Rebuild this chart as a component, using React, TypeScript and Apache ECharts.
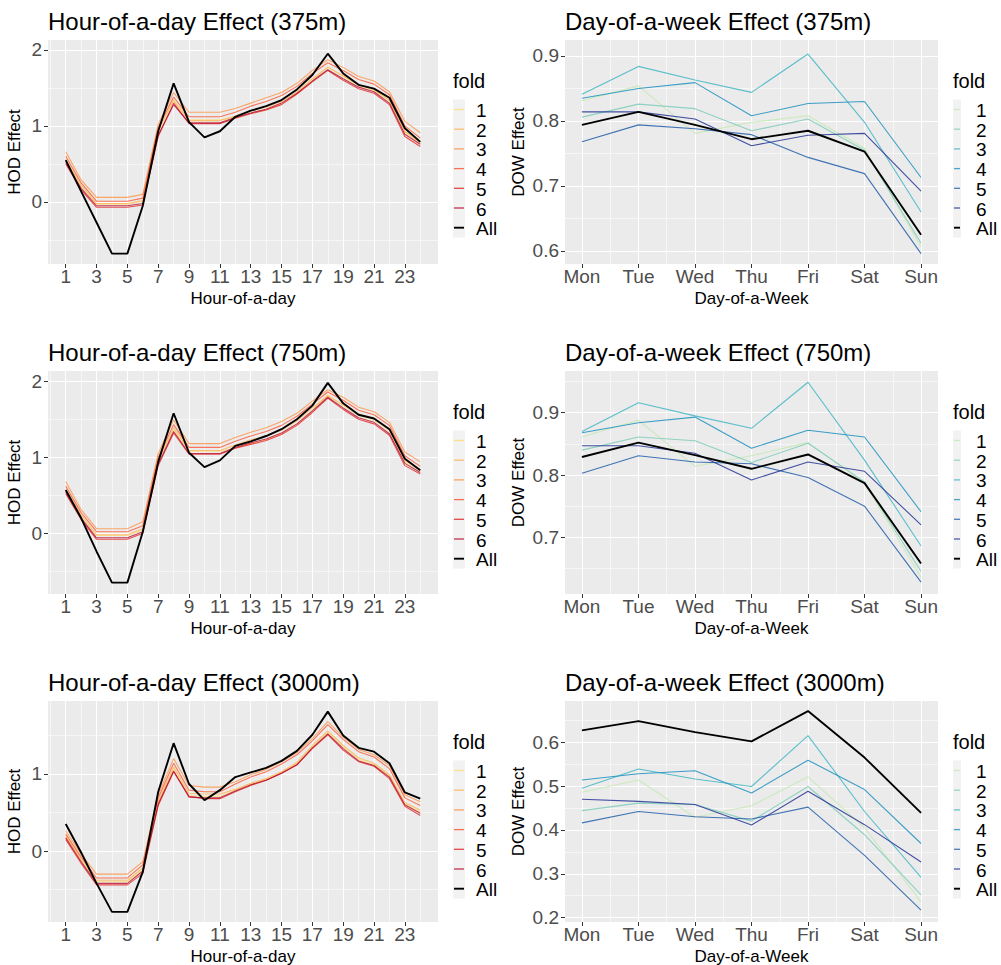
import React, { useEffect, useRef } from 'react';
import * as echarts from 'echarts';

const FONT = '"Liberation Sans", Arial, Helvetica, sans-serif';

// ---------- categories / ticks ----------
const hours = [1, 2, 3, 4, 5, 6, 7, 8, 9, 10, 11, 12, 13, 14, 15, 16, 17, 18, 19, 20, 21, 22, 23, 24];
const hourTicks = [1, 3, 5, 7, 9, 11, 13, 15, 17, 19, 21, 23];
const hourMinor = [0, 2, 4, 6, 8, 10, 12, 14, 16, 18, 20, 22, 24];
const days = ['Mon', 'Tue', 'Wed', 'Thu', 'Fri', 'Sat', 'Sun'];
const dayTicks = [0, 1, 2, 3, 4, 5, 6];
const dayMinor = [0.5, 1.5, 2.5, 3.5, 4.5, 5.5];
const foldNames = ['1', '2', '3', '4', '5', '6', 'All'];
const hodColors = ['#FED976', '#FEB24C', '#FD8D3C', '#FC4E2A', '#E31A1C', '#B10026'];
const dowColors = ['#C7E9B4', '#7FCDBB', '#41B6C4', '#1D91C0', '#225EA8', '#253494'];

// ---------- HOD 375m ----------
const hod375_1 = [0.54, 0.20, -0.03, -0.03, -0.03, 0.01, 0.92, 1.35, 1.08, 1.08, 1.08, 1.11, 1.17, 1.22, 1.29, 1.42, 1.60, 1.78, 1.65, 1.53, 1.47, 1.33, 0.92, 0.77];
const hod375_2 = [0.56, 0.22, -0.02, -0.02, -0.02, 0.02, 0.95, 1.33, 1.07, 1.07, 1.07, 1.13, 1.20, 1.25, 1.32, 1.45, 1.62, 1.77, 1.66, 1.54, 1.48, 1.34, 0.93, 0.78];
const hod375_3 = [0.66, 0.29, 0.06, 0.06, 0.06, 0.10, 1.02, 1.44, 1.18, 1.18, 1.18, 1.23, 1.30, 1.37, 1.44, 1.56, 1.73, 1.87, 1.77, 1.65, 1.59, 1.45, 1.06, 0.91];
const hod375_4 = [0.60, 0.25, 0.01, 0.01, 0.01, 0.05, 0.98, 1.38, 1.12, 1.12, 1.12, 1.18, 1.26, 1.32, 1.40, 1.52, 1.69, 1.83, 1.73, 1.61, 1.55, 1.41, 1.00, 0.84];
const hod375_5 = [0.50, 0.16, -0.07, -0.07, -0.07, -0.04, 0.86, 1.30, 1.03, 1.03, 1.03, 1.10, 1.16, 1.21, 1.28, 1.42, 1.58, 1.73, 1.60, 1.49, 1.43, 1.28, 0.86, 0.73];
const hod375_6 = [0.52, 0.18, -0.05, -0.05, -0.05, -0.02, 0.88, 1.28, 1.04, 1.04, 1.04, 1.11, 1.17, 1.22, 1.30, 1.43, 1.59, 1.74, 1.62, 1.51, 1.45, 1.30, 0.89, 0.76];
const hod375_all = [0.55, 0.14, -0.27, -0.68, -0.68, -0.05, 0.93, 1.56, 1.05, 0.85, 0.93, 1.12, 1.20, 1.26, 1.34, 1.48, 1.67, 1.95, 1.69, 1.54, 1.49, 1.37, 0.97, 0.79];

// ---------- HOD 750m ----------
const hod750_1 = [0.56, 0.22, -0.03, -0.03, -0.03, 0.04, 0.94, 1.36, 1.08, 1.08, 1.08, 1.12, 1.18, 1.23, 1.31, 1.44, 1.62, 1.82, 1.68, 1.55, 1.49, 1.35, 0.94, 0.82];
const hod750_2 = [0.58, 0.24, -0.02, -0.02, -0.02, 0.06, 0.96, 1.39, 1.09, 1.09, 1.09, 1.16, 1.23, 1.28, 1.36, 1.48, 1.65, 1.81, 1.69, 1.57, 1.51, 1.37, 0.96, 0.84];
const hod750_3 = [0.68, 0.31, 0.06, 0.06, 0.06, 0.15, 1.05, 1.49, 1.18, 1.18, 1.18, 1.26, 1.33, 1.39, 1.47, 1.58, 1.74, 1.89, 1.79, 1.66, 1.60, 1.46, 1.07, 0.94];
const hod750_4 = [0.62, 0.27, 0.02, 0.02, 0.02, 0.10, 1.00, 1.43, 1.13, 1.13, 1.13, 1.21, 1.28, 1.34, 1.42, 1.54, 1.70, 1.86, 1.75, 1.62, 1.56, 1.42, 1.02, 0.88];
const hod750_5 = [0.52, 0.18, -0.08, -0.08, -0.08, 0.00, 0.89, 1.32, 1.04, 1.04, 1.04, 1.12, 1.17, 1.22, 1.30, 1.42, 1.59, 1.78, 1.63, 1.50, 1.44, 1.29, 0.89, 0.78];
const hod750_6 = [0.54, 0.20, -0.06, -0.06, -0.06, 0.02, 0.91, 1.34, 1.05, 1.05, 1.05, 1.13, 1.19, 1.24, 1.32, 1.44, 1.61, 1.79, 1.65, 1.52, 1.46, 1.31, 0.92, 0.80];
const hod750_all = [0.57, 0.20, -0.24, -0.65, -0.65, 0.02, 0.94, 1.58, 1.06, 0.87, 0.96, 1.15, 1.21, 1.28, 1.37, 1.50, 1.68, 1.98, 1.71, 1.56, 1.51, 1.37, 0.98, 0.83];

// ---------- HOD 3000m ----------
const hod3000_1 = [0.18, -0.12, -0.40, -0.40, -0.40, -0.24, 0.63, 1.07, 0.72, 0.71, 0.71, 0.79, 0.87, 0.93, 1.02, 1.14, 1.35, 1.54, 1.35, 1.19, 1.12, 0.97, 0.61, 0.51];
const hod3000_2 = [0.20, -0.11, -0.38, -0.38, -0.38, -0.22, 0.65, 1.09, 0.75, 0.74, 0.74, 0.80, 0.88, 0.94, 1.03, 1.15, 1.37, 1.56, 1.37, 1.21, 1.14, 0.99, 0.63, 0.53];
const hod3000_3 = [0.26, -0.04, -0.30, -0.30, -0.30, -0.14, 0.73, 1.20, 0.85, 0.83, 0.83, 0.90, 0.99, 1.06, 1.16, 1.28, 1.46, 1.68, 1.48, 1.32, 1.25, 1.11, 0.73, 0.64];
const hod3000_4 = [0.22, -0.08, -0.35, -0.35, -0.35, -0.18, 0.69, 1.14, 0.79, 0.77, 0.77, 0.87, 0.96, 1.03, 1.13, 1.25, 1.43, 1.64, 1.45, 1.29, 1.22, 1.07, 0.69, 0.59];
const hod3000_5 = [0.15, -0.16, -0.44, -0.44, -0.44, -0.29, 0.59, 1.03, 0.71, 0.68, 0.68, 0.77, 0.85, 0.92, 1.01, 1.12, 1.33, 1.51, 1.31, 1.16, 1.10, 0.94, 0.58, 0.46];
const hod3000_6 = [0.17, -0.14, -0.42, -0.42, -0.42, -0.26, 0.61, 1.04, 0.70, 0.69, 0.69, 0.78, 0.86, 0.92, 1.01, 1.12, 1.34, 1.52, 1.33, 1.17, 1.11, 0.96, 0.60, 0.49];
const hod3000_all = [0.35, -0.02, -0.42, -0.79, -0.79, -0.27, 0.77, 1.40, 0.87, 0.66, 0.79, 0.96, 1.02, 1.08, 1.17, 1.30, 1.51, 1.81, 1.50, 1.34, 1.29, 1.14, 0.76, 0.68];

// ---------- DOW 375m ----------
const dow375_1 = [0.831, 0.854, 0.781, 0.798, 0.808, 0.758, 0.606];
const dow375_2 = [0.806, 0.826, 0.819, 0.785, 0.803, 0.755, 0.612];
const dow375_3 = [0.841, 0.884, 0.863, 0.844, 0.903, 0.798, 0.660];
const dow375_4 = [0.835, 0.850, 0.859, 0.808, 0.827, 0.830, 0.713];
const dow375_5 = [0.768, 0.794, 0.788, 0.779, 0.744, 0.719, 0.596];
const dow375_6 = [0.814, 0.814, 0.803, 0.762, 0.778, 0.781, 0.692];
const dow375_all = [0.794, 0.814, 0.794, 0.772, 0.785, 0.753, 0.625];

// ---------- DOW 750m ----------
const dow750_1 = [0.861, 0.888, 0.814, 0.831, 0.852, 0.787, 0.636];
const dow750_2 = [0.840, 0.861, 0.855, 0.820, 0.851, 0.789, 0.645];
const dow750_3 = [0.870, 0.916, 0.895, 0.875, 0.949, 0.824, 0.686];
const dow750_4 = [0.868, 0.884, 0.893, 0.843, 0.872, 0.861, 0.741];
const dow750_5 = [0.803, 0.831, 0.821, 0.818, 0.796, 0.750, 0.628];
const dow750_6 = [0.847, 0.847, 0.835, 0.792, 0.821, 0.806, 0.720];
const dow750_all = [0.829, 0.852, 0.832, 0.810, 0.833, 0.787, 0.658];

// ---------- DOW 3000m ----------
const dow3000_1 = [0.486, 0.514, 0.429, 0.455, 0.521, 0.405, 0.236];
const dow3000_2 = [0.444, 0.461, 0.458, 0.420, 0.499, 0.389, 0.252];
const dow3000_3 = [0.495, 0.539, 0.516, 0.499, 0.615, 0.442, 0.292];
const dow3000_4 = [0.514, 0.528, 0.535, 0.484, 0.559, 0.492, 0.369];
const dow3000_5 = [0.416, 0.442, 0.430, 0.425, 0.452, 0.342, 0.217];
const dow3000_6 = [0.470, 0.465, 0.458, 0.411, 0.488, 0.412, 0.327];
const dow3000_all = [0.627, 0.648, 0.623, 0.602, 0.671, 0.565, 0.439];

// ---------- axis ticks (y) ----------
const hodYTicks = [0, 1, 2];
const hodYMinor = [-0.5, 0.5, 1.5];
const hod3000YTicks = [0, 1];
const dow375YTicks = [0.6, 0.7, 0.8, 0.9];
const dow375YMinor = [0.65, 0.75, 0.85];
const dow750YTicks = [0.7, 0.8, 0.9];
const dow750YMinor = [0.65, 0.75, 0.85, 0.95];
const dow3000YTicks = [0.2, 0.3, 0.4, 0.5, 0.6];
const dow3000YMinor = [0.25, 0.35, 0.45, 0.55, 0.65];

type Panel = {
  kind: 'hod' | 'dow';
  title: string;
  folds: number[][];
  all: number[];
  yMin: number;
  yMax: number;
  yTicks: number[];
  yMinor: number[];
};

const panels: Panel[] = [
  { kind: 'hod', title: 'Hour-of-a-day Effect (375m)', folds: [hod375_1, hod375_2, hod375_3, hod375_4, hod375_5, hod375_6], all: hod375_all, yMin: -0.816, yMax: 2.13, yTicks: hodYTicks, yMinor: hodYMinor },
  { kind: 'dow', title: 'Day-of-a-week Effect (375m)', folds: [dow375_1, dow375_2, dow375_3, dow375_4, dow375_5, dow375_6], all: dow375_all, yMin: 0.58, yMax: 0.9246, yTicks: dow375YTicks, yMinor: dow375YMinor },
  { kind: 'hod', title: 'Hour-of-a-day Effect (750m)', folds: [hod750_1, hod750_2, hod750_3, hod750_4, hod750_5, hod750_6], all: hod750_all, yMin: -0.80, yMax: 2.136, yTicks: hodYTicks, yMinor: hodYMinor },
  { kind: 'dow', title: 'Day-of-a-week Effect (750m)', folds: [dow750_1, dow750_2, dow750_3, dow750_4, dow750_5, dow750_6], all: dow750_all, yMin: 0.609, yMax: 0.967, yTicks: dow750YTicks, yMinor: dow750YMinor },
  { kind: 'hod', title: 'Hour-of-a-day Effect (3000m)', folds: [hod3000_1, hod3000_2, hod3000_3, hod3000_4, hod3000_5, hod3000_6], all: hod3000_all, yMin: -0.922, yMax: 1.948, yTicks: hod3000YTicks, yMinor: hodYMinor },
  { kind: 'dow', title: 'Day-of-a-week Effect (3000m)', folds: [dow3000_1, dow3000_2, dow3000_3, dow3000_4, dow3000_5, dow3000_6], all: dow3000_all, yMin: 0.19, yMax: 0.694, yTicks: dow3000YTicks, yMinor: dow3000YMinor },
];

const rowTops = [40, 371, 701];
const rowHeights = [224, 223, 221];

function buildOption() {
  const grid: any[] = [];
  const xAxis: any[] = [];
  const yAxis: any[] = [];
  const series: any[] = [];
  const title: any[] = [];
  const graphic: any[] = [];

  panels.forEach((p, i) => {
    const row = Math.floor(i / 2);
    const col = i % 2;
    const top = rowTops[row];
    const isHod = p.kind === 'hod';
    const left = col === 0 ? 48 : 565;
    const width = col === 0 ? 390 : 373;
    const colors = isHod ? hodColors : dowColors;

    grid.push({
      left, top, width, height: rowHeights[row], show: true, backgroundColor: '#EBEBEB',
      borderWidth: 0, containLabel: false, outerBoundsMode: 'none',
    });

    title.push({
      text: p.title, left, top: top - 31, padding: 0,
      textStyle: { fontSize: 24, fontWeight: 'normal', color: '#000000', fontFamily: FONT },
    });

    const xTicks = isHod ? hourTicks : dayTicks;
    xAxis.push({
      type: 'value', gridIndex: i,
      min: isHod ? -0.15 : -0.3, max: isHod ? 25.15 : 6.3,
      axisLine: { show: true, onZero: false, lineStyle: { color: 'rgba(0,0,0,0)' } },
      axisTick: { show: true, customValues: xTicks, length: 4, lineStyle: { color: '#333333', width: 1 } },
      axisLabel: {
        customValues: xTicks, fontSize: 19, color: '#4D4D4D', margin: 3, fontFamily: FONT,
        formatter: (v: number) => (isHod ? String(v) : days[Math.round(v)]),
      },
      splitLine: { show: false },
      name: isHod ? 'Hour-of-a-day' : 'Day-of-a-Week', nameLocation: 'middle', nameGap: 26,
      nameTextStyle: { fontSize: 17, color: '#000000', fontFamily: FONT },
    });
    yAxis.push({
      type: 'value', gridIndex: i, min: p.yMin, max: p.yMax,
      axisLine: { show: true, onZero: false, lineStyle: { color: 'rgba(0,0,0,0)' } },
      axisTick: { show: true, customValues: p.yTicks, length: 4, lineStyle: { color: '#333333', width: 1 } },
      axisLabel: {
        customValues: p.yTicks, fontSize: 19, color: '#4D4D4D', margin: 6, fontFamily: FONT,
        formatter: (v: number) => (isHod ? String(Math.round(v)) : v.toFixed(1)),
      },
      splitLine: { show: false },
      name: isHod ? 'HOD Effect' : 'DOW Effect', nameLocation: 'middle', nameRotate: 90,
      nameGap: isHod ? 25 : 38,
      nameTextStyle: { fontSize: 17, color: '#000000', fontFamily: FONT },
    });

    const xMinor = isHod ? hourMinor : dayMinor;
    const major = { color: '#FFFFFF', width: 1.1, type: 'solid', opacity: 1 };
    const minor = { color: '#FFFFFF', width: 0.55, type: 'solid', opacity: 1 };
    const gridLines = [
      ...xMinor.map((v) => ({ xAxis: v, lineStyle: minor })),
      ...p.yMinor.map((v) => ({ yAxis: v, lineStyle: minor })),
      ...xTicks.map((v) => ({ xAxis: v, lineStyle: major })),
      ...p.yTicks.map((v) => ({ yAxis: v, lineStyle: major })),
    ];

    const xs = isHod ? hours : dayTicks;
    p.folds.forEach((vals, k) => {
      const s: any = {
        type: 'line', name: foldNames[k], xAxisIndex: i, yAxisIndex: i,
        data: xs.map((x, j) => [x, vals[j]]),
        symbol: 'none', showSymbol: false, silent: true, z: 10,
        lineStyle: { color: colors[k], width: 1.1, opacity: isHod ? 0.75 : 0.85 },
      };
      if (k === 0) {
        s.markLine = {
          silent: true, symbol: ['none', 'none'], z: 1, label: { show: false },
          animation: false, emphasis: { disabled: true },
          lineStyle: { type: 'solid' },
          data: gridLines,
        };
      }
      series.push(s);
    });
    series.push({
      type: 'line', name: 'All', xAxisIndex: i, yAxisIndex: i,
      data: xs.map((x, j) => [x, p.all[j]]),
      symbol: 'none', showSymbol: false, silent: true, z: 11,
      lineStyle: { color: '#000000', width: 1.9 },
    });

    // legend (drawn as decoration)
    const lx = col === 0 ? 453 : 953;
    const kw = col === 0 ? 12 : 8;
    const off = top - 40;
    graphic.push({
      type: 'text', x: lx, y: 81 + off,
      style: { text: 'fold', fontSize: 20, fontFamily: FONT, fill: '#000000', align: 'left', verticalAlign: 'middle' },
    });
    graphic.push({
      type: 'rect', shape: { x: lx, y: 99.5 + off, width: kw, height: 138 },
      style: { fill: '#F2F2F2' },
    });
    foldNames.forEach((nm, k) => {
      const cy = 109.5 + off + k * 19.7;
      const isAll = k === 6;
      graphic.push({
        type: 'line', shape: { x1: lx + 1, y1: cy, x2: lx + kw - 1, y2: cy },
        style: { stroke: isAll ? '#000000' : colors[k], lineWidth: isAll ? 1.9 : 1.3, opacity: isAll ? 1 : 0.8 },
      });
      graphic.push({
        type: 'text', x: lx + 23, y: cy + 1,
        style: { text: nm, fontSize: 19, fontFamily: FONT, fill: '#000000', align: 'left', verticalAlign: 'middle' },
      });
    });
  });

  return {
    animation: false,
    backgroundColor: '#FFFFFF',
    textStyle: { fontFamily: FONT },
    title, grid, xAxis, yAxis, series,
    graphic: { elements: graphic },
  };
}

export default function App() {
  const ref = useRef<HTMLDivElement>(null);
  useEffect(() => {
    if (!ref.current) return;
    const chart = echarts.init(ref.current, null, { renderer: 'svg' });
    chart.setOption(buildOption() as any);
    return () => chart.dispose();
  }, []);
  return (
    <div
      ref={ref}
      style={{ position: 'fixed', left: 0, top: 0, width: '1001px', height: '965px', background: '#FFFFFF' }}
    />
  );
}
